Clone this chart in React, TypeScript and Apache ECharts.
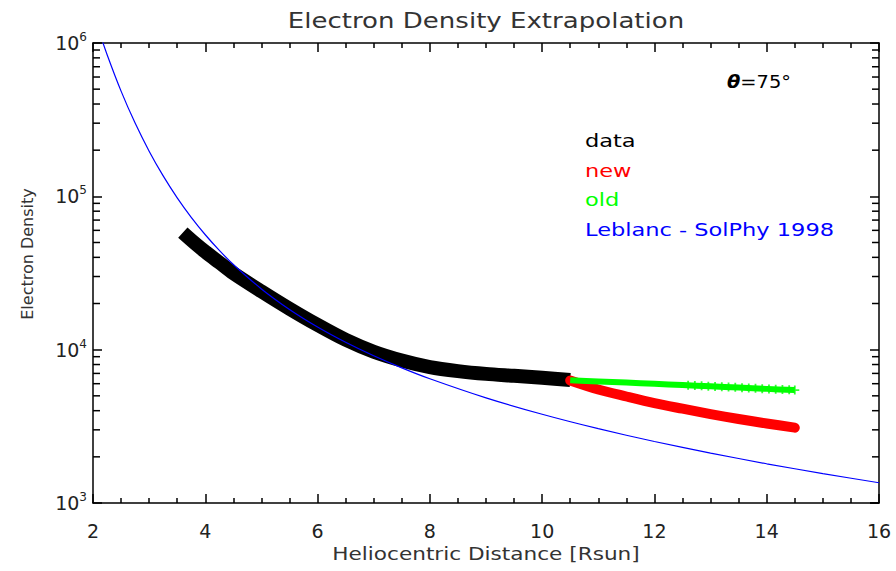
import React, { useEffect, useRef } from "react";
import * as echarts from "echarts";

// Leblanc et al. (Sol. Phys. 1998) model
const leblancR = [2.0, 2.1, 2.25, 2.5, 2.75, 3.0, 3.25, 3.5, 3.75, 4.0, 4.25, 4.5, 5.0, 5.5, 6.0, 6.5, 7.0, 7.5, 8.0, 9.0, 10.0, 11.0, 12.0, 13.0, 14.0, 15.0, 16.0];
const leblancN = [1588750, 1218380, 841725, 485440, 300300, 197023, 135881, 97779, 72968, 56172, 44412, 35928, 24880, 18280, 14046, 11169, 9123, 7612, 6462, 4850, 3790, 3052, 2517, 2114, 1802, 1555, 1356];

// measured data (black)
const dataR = [3.6, 3.8, 4.0, 4.25, 4.5, 5.0, 5.5, 6.0, 6.5, 7.0, 7.5, 8.0, 8.5, 9.0, 9.5, 10.0, 10.5];
const dataN = [58000, 50000, 43500, 37000, 31500, 24000, 18500, 14500, 11600, 9700, 8500, 7700, 7250, 6950, 6750, 6550, 6350];

// new extrapolation (red)
const newR = [10.5, 11.0, 11.5, 12.0, 12.5, 13.0, 13.5, 14.0, 14.5];
const newN = [6300, 5500, 4950, 4480, 4120, 3800, 3530, 3300, 3100];

// old extrapolation (green)
const oldR = [10.5, 11.0, 11.5, 12.0, 12.5, 13.0, 13.5, 14.0, 14.5];
const oldN = [6320, 6200, 6100, 5990, 5880, 5770, 5660, 5550, 5450];
const oldMarkR = [12.6, 12.72, 12.84, 12.96, 13.08, 13.2, 13.32, 13.44, 13.56, 13.68, 13.8, 13.92, 14.04, 14.16, 14.28, 14.4, 14.5];
const oldMarkN = [5860, 5835, 5810, 5780, 5755, 5730, 5700, 5680, 5650, 5620, 5600, 5570, 5540, 5520, 5500, 5470, 5450];

// axes
const xMin = 2;
const xMax = 16;
const xInterval = 2;
const yMin = 1000;
const yMax = 1000000;
const yMinorTicks = [2000, 3000, 4000, 5000, 6000, 7000, 8000, 9000, 20000, 30000, 40000, 50000, 60000, 70000, 80000, 90000, 200000, 300000, 400000, 500000, 600000, 700000, 800000, 900000];

const legendItems = ["data", "new", "old", "Leblanc - SolPhy 1998"];
const legendColors = ["#000000", "#ff0000", "#00ff00", "#0000ff"];

const FONT = "DejaVu Sans";
const TXT = "#222222";
const TICK = "#000000";

export default function App() {
  const ref = useRef<HTMLDivElement>(null);
  useEffect(() => {
    if (!ref.current) return;
    const chart = echarts.init(ref.current, null, { renderer: "svg" });
    const pair = (xs: number[], ys: number[]) => xs.map((x, i) => [x, ys[i]]);
    const plusPath = "path://M4,0H6V4H10V6H6V10H4V6H0V4H4Z";
    const supLabel = (v: number) => {
      const e = Math.round(Math.log10(v));
      return "{b|10}{s|" + e + "}";
    };
    const xAxisBase = {
      type: "value",
      min: xMin,
      max: xMax,
      interval: xInterval,
      axisLine: { show: true, onZero: false, lineStyle: { color: "#000", width: 1.5 } },
      axisTick: { show: true, inside: true, length: 9, lineStyle: { color: TICK, width: 1.5 } },
      minorTick: { show: true, splitNumber: 4, length: 5, lineStyle: { color: TICK, width: 1.5 } },
      splitLine: { show: false },
    };
    const yAxisBase = {
      type: "log",
      min: yMin,
      max: yMax,
      axisLine: { show: true, onZero: false, lineStyle: { color: "#000", width: 1.5 } },
      axisTick: { show: true, inside: true, length: 9, lineStyle: { color: TICK, width: 1.5 } },
      splitLine: { show: false },
    };
    chart.setOption({
      animation: false,
      grid: { left: 93, right: 17, top: 43, bottom: 68 },
      xAxis: [
        Object.assign({}, xAxisBase, { position: "bottom", axisLabel: { show: true, margin: 18, fontSize: 19, color: TXT, fontFamily: FONT } }),
        Object.assign({}, xAxisBase, { position: "top", axisLabel: { show: false } }),
      ],
      yAxis: [
        Object.assign({}, yAxisBase, {
          position: "left",
          axisLabel: {
            show: true,
            margin: 6,
            formatter: supLabel,
            rich: {
              b: { fontSize: 19, color: TXT, fontFamily: FONT },
              s: { fontSize: 12, color: TXT, fontFamily: FONT, verticalAlign: "top", padding: [0, 0, 12, 0] },
            },
          },
        }),
        Object.assign({}, yAxisBase, { position: "right", axisLabel: { show: false } }),
      ],
      graphic: [
        {
          type: "text",
          x: 486,
          y: 21,
          scaleX: 1.24,
          style: { text: "Electron Density Extrapolation", font: `21px "${FONT}"`, fill: "#333", textAlign: "center", textVerticalAlign: "middle" },
        },
        {
          type: "text",
          x: 486,
          y: 554,
          scaleX: 1.2,
          style: { text: "Heliocentric Distance [Rsun]", font: `18px "${FONT}"`, fill: "#333", textAlign: "center", textVerticalAlign: "middle" },
        },
        {
          type: "text",
          x: 27,
          y: 254,
          rotation: Math.PI / 2,
          style: { text: "Electron Density", font: `16px "${FONT}"`, fill: "#333", textAlign: "center", textVerticalAlign: "middle" },
        },
        {
          type: "text",
          x: 727,
          y: 82,
          scaleX: 1.08,
          style: {
            text: "{t|θ}{r|=75°}",
            textVerticalAlign: "middle",
            rich: {
              t: { font: `italic bold 18px "${FONT}"`, fill: "#000" },
              r: { font: `18px "${FONT}"`, fill: "#000" },
            },
          },
        },
        ...legendItems.map((t, i) => ({
          type: "text",
          x: 585,
          y: 141 + i * 29.5,
          scaleX: 1.25,
          style: { text: t, font: `18px "${FONT}"`, fill: legendColors[i], textVerticalAlign: "middle" },
        })),
      ],
      series: [
        {
          type: "custom",
          data: yMinorTicks.map((v) => [xMin, v]),
          encode: { x: 0, y: 1 },
          clip: false,
          silent: true,
          z: 10,
          renderItem: (params: any, api: any) => {
            const v = api.value(1);
            const l = api.coord([xMin, v]);
            const r = api.coord([xMax, v]);
            return {
              type: "group",
              children: [
                { type: "rect", shape: { x: l[0], y: l[1] - 0.75, width: 7, height: 1.5 }, style: { fill: TICK } },
                { type: "rect", shape: { x: r[0] - 7, y: r[1] - 0.75, width: 7, height: 1.5 }, style: { fill: TICK } },
              ],
            };
          },
        },
        {
          type: "line",
          data: pair(dataR, dataN),
          symbol: "none",
          smooth: 0.3,
          lineStyle: { color: "#000000", width: 14, cap: "butt", join: "round" },
          z: 2,
        },
        {
          type: "line",
          data: pair(newR, newN),
          symbol: "none",
          smooth: 0.3,
          lineStyle: { color: "#ff0000", width: 10, cap: "round", join: "round" },
          z: 3,
        },
        {
          type: "line",
          data: pair(oldR, oldN),
          symbol: "none",
          smooth: 0.3,
          lineStyle: { color: "#00ff00", width: 6, cap: "butt", join: "round" },
          z: 4,
        },
        {
          type: "scatter",
          data: pair(oldMarkR, oldMarkN),
          symbol: plusPath,
          symbolSize: 9,
          itemStyle: { color: "#00ff00" },
          z: 4,
        },
        {
          type: "line",
          data: pair(leblancR, leblancN),
          symbol: "none",
          smooth: 0.2,
          lineStyle: { color: "#0000ff", width: 1.2 },
          z: 5,
        },
      ],
    });
    return () => chart.dispose();
  }, []);
  return <div ref={ref} style={{ position: "fixed", left: 0, top: 0, width: 896, height: 571, background: "#fff" }} />;
}
